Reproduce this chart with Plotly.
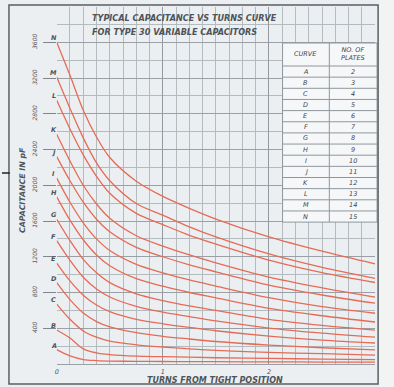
import plotly.graph_objects as go

W, H = 394, 387

# ---- data ----
turns = [0, 0.125, 0.25, 0.375, 0.5, 0.75, 1, 1.25, 1.5, 2, 2.5, 3]
curve_names = ["A", "B", "C", "D", "E", "F", "G", "H", "I", "J", "K", "L", "M", "N"]
plates = [2, 3, 4, 5, 6, 7, 8, 9, 10, 11, 12, 13, 14, 15]

cap_A = [160, 90, 50, 38, 33, 30, 28, 27, 26, 24, 22, 20]
cap_B = [380, 290, 170, 125, 105, 88, 82, 76, 70, 62, 55, 48]
cap_C = [670, 500, 370, 300, 255, 215, 190, 170, 152, 130, 115, 100]
cap_D = [910, 720, 570, 475, 415, 350, 310, 280, 252, 212, 182, 158]
cap_E = [1130, 930, 770, 660, 585, 500, 450, 410, 372, 312, 268, 235]
cap_F = [1380, 1160, 970, 840, 750, 645, 580, 530, 482, 402, 345, 300]
cap_G = [1620, 1380, 1170, 1020, 910, 785, 710, 650, 600, 500, 432, 380]
cap_H = [1870, 1610, 1390, 1220, 1100, 955, 870, 800, 740, 622, 540, 470]
cap_I = [2080, 1810, 1580, 1400, 1270, 1115, 1020, 940, 872, 742, 642, 568]
cap_J = [2320, 2050, 1810, 1620, 1480, 1305, 1200, 1110, 1032, 882, 772, 680]
cap_K = [2570, 2270, 2000, 1790, 1630, 1435, 1320, 1220, 1132, 972, 852, 748]
cap_L = [2950, 2630, 2340, 2100, 1910, 1685, 1560, 1440, 1342, 1162, 1022, 912]
cap_M = [3210, 2860, 2530, 2250, 2050, 1795, 1665, 1535, 1422, 1232, 1082, 958]
cap_N = [3600, 3230, 2840, 2540, 2310, 2045, 1875, 1742, 1622, 1422, 1262, 1120]

all_caps = [cap_A, cap_B, cap_C, cap_D, cap_E, cap_F, cap_G,
            cap_H, cap_I, cap_J, cap_K, cap_L, cap_M, cap_N]

y_tick_vals = [400, 800, 1200, 1600, 2000, 2400, 2800, 3200, 3600]
y_tick_text = ["400", "800", "1200", "1600", "2000", "2400", "2800", "3200", "3600"]
x_tick_vals = [0, 1, 2]
x_tick_text = ["0", "1", "2"]

title_1 = "TYPICAL CAPACITANCE VS TURNS CURVE"
title_2 = "FOR TYPE 30 VARIABLE CAPACITORS"
y_title = "CAPACITANCE IN pF"
x_title = "TURNS FROM TIGHT POSITION"
table_header = ["CURVE", "NO. OF<br>PLATES"]

# ---- helpers ----
def fx(p):
    return p / W

def fy(p):
    return 1 - p / H

FONT = "DejaVu Sans"
TXT = "#4e5458"
TBL_TXT = "#3f4549"
TBL_LINE = "#8f979c"
LINE = "#e66b56"

fig = go.Figure()

for name, caps in zip(curve_names, all_caps):
    fig.add_trace(go.Scatter(
        x=turns, y=caps, mode="lines", name=name,
        line=dict(color=LINE, width=1.3, shape="spline", smoothing=0.9),
        hoverinfo="skip", showlegend=False,
    ))

annotations = []
for name, caps in zip(curve_names, all_caps):
    annotations.append(dict(
        x=0, y=caps[0], xref="x", yref="y", text=name, showarrow=False,
        xanchor="center", yanchor="middle", xshift=-3, yshift=4,
        font=dict(family=FONT, size=6.5, color=TXT, style="italic", weight="bold"),
    ))

annotations += [
    dict(x=fx(88), y=fy(18), xref="paper", yref="paper", text=title_1,
         showarrow=False, xanchor="left", yanchor="middle",
         font=dict(family=FONT, size=8.1, color=TXT, style="italic", weight="bold")),
    dict(x=fx(88), y=fy(32), xref="paper", yref="paper", text=title_2,
         showarrow=False, xanchor="left", yanchor="middle",
         font=dict(family=FONT, size=8.1, color=TXT, style="italic", weight="bold")),
    dict(x=fx(20), y=fy(190), xref="paper", yref="paper", text=y_title,
         showarrow=False, xanchor="center", yanchor="middle", textangle=-90,
         font=dict(family=FONT, size=7.8, color=TXT, style="italic", weight="bold")),
    dict(x=fx(214), y=fy(380), xref="paper", yref="paper", text=x_title,
         showarrow=False, xanchor="center", yanchor="middle",
         font=dict(family=FONT, size=8, color=TXT, style="italic", weight="bold")),
]

# ---- table (built from curve_names / plates) ----
T_L, T_M, T_R = 282, 329, 377
T_TOP, T_HDR = 43, 66
ROW_H = 11.15
T_BOT = T_HDR + ROW_H * len(curve_names)

shapes = [
    # paper strip right of the frame
    dict(type="rect", xref="paper", yref="paper", x0=fx(379), x1=1, y0=0, y1=1,
         fillcolor="#f2f3f3", line=dict(width=0), layer="below"),
    # table body
    dict(type="rect", xref="paper", yref="paper",
         x0=fx(T_L), x1=fx(T_R), y0=fy(T_BOT), y1=fy(T_TOP),
         fillcolor="#f6f7f8", line=dict(color=TBL_LINE, width=1), layer="above"),
    dict(type="line", xref="paper", yref="paper",
         x0=fx(T_M), x1=fx(T_M), y0=fy(T_BOT), y1=fy(T_TOP),
         line=dict(color=TBL_LINE, width=1), layer="above"),
    dict(type="line", xref="paper", yref="paper",
         x0=fx(T_L), x1=fx(T_R), y0=fy(T_HDR), y1=fy(T_HDR),
         line=dict(color=TBL_LINE, width=1), layer="above"),
]
for i in range(1, len(curve_names)):
    yy = T_HDR + ROW_H * i
    shapes.append(dict(type="line", xref="paper", yref="paper",
                       x0=fx(T_L), x1=fx(T_R), y0=fy(yy), y1=fy(yy),
                       line=dict(color=TBL_LINE, width=1), layer="above"))

tbl_font = dict(family=FONT, size=6.5, color=TBL_TXT, style="italic")
annotations.append(dict(x=fx((T_L + T_M) / 2), y=fy((T_TOP + T_HDR) / 2),
                        xref="paper", yref="paper", text=table_header[0], showarrow=False,
                        xanchor="center", yanchor="middle", font=tbl_font))
annotations.append(dict(x=fx((T_M + T_R) / 2), y=fy((T_TOP + T_HDR) / 2),
                        xref="paper", yref="paper", text=table_header[1], showarrow=False,
                        xanchor="center", yanchor="middle", font=tbl_font))
for i, (name, n) in enumerate(zip(curve_names, plates)):
    yc = T_HDR + ROW_H * (i + 0.5)
    annotations.append(dict(x=fx((T_L + T_M) / 2), y=fy(yc), xref="paper", yref="paper",
                            text=name, showarrow=False, xanchor="center", yanchor="middle",
                            font=tbl_font))
    annotations.append(dict(x=fx((T_M + T_R) / 2), y=fy(yc), xref="paper", yref="paper",
                            text=str(n), showarrow=False, xanchor="center", yanchor="middle",
                            font=tbl_font))

shapes += [
    # outer frame
    dict(type="rect", xref="paper", yref="paper",
         x0=fx(7), x1=fx(378), y0=fy(384), y1=fy(5),
         line=dict(color="#5a5f63", width=1.5), fillcolor="rgba(0,0,0,0)", layer="above"),
    # stray mark at left edge
    dict(type="line", xref="paper", yref="paper",
         x0=fx(0), x1=fx(8), y0=fy(173), y1=fy(173),
         line=dict(color="#222", width=1.5)),
]

fig.update_layout(
    width=W, height=H,
    margin=dict(l=0, r=0, t=0, b=0),
    paper_bgcolor="#eceff1",
    plot_bgcolor="#eceff1",
    font=dict(family=FONT, color=TXT),
    annotations=annotations,
    shapes=shapes,
    xaxis=dict(
        domain=[fx(55), fx(375)], range=[0, 3],
        tickmode="array", tickvals=x_tick_vals, ticktext=x_tick_text,
        tickfont=dict(family=FONT, size=6.5, color=TXT, style="italic"),
        showgrid=True, gridcolor="#939a9f", gridwidth=1,
        minor=dict(dtick=0.125, tick0=0, showgrid=True, gridcolor="#b4bbbf", gridwidth=1),
        zeroline=False, showline=False, ticks="", ticklabelstandoff=2,
        fixedrange=True,
    ),
    yaxis=dict(
        domain=[fy(364), fy(6.5)], range=[0, 4000],
        tickmode="array", tickvals=y_tick_vals, ticktext=y_tick_text,
        tickangle=-90,
        tickfont=dict(family=FONT, size=6, color=TXT, style="italic"),
        ticks="outside", ticklen=13, tickcolor="#7e868b", tickwidth=1,
        showgrid=True, gridcolor="#9aa1a6", gridwidth=1,
        minor=dict(dtick=200, tick0=0, showgrid=True, gridcolor="#b4bbbf", gridwidth=1),
        zeroline=True, zerolinecolor="#9aa1a6", zerolinewidth=1,
        showline=False, ticklabelstandoff=3,
        fixedrange=True,
    ),
)

fig.write_html(
    "out.html",
    config={"displayModeBar": False},
    post_script="document.body.style.margin='0';document.body.style.padding='0';"
                "document.body.style.overflow='hidden';",
)
